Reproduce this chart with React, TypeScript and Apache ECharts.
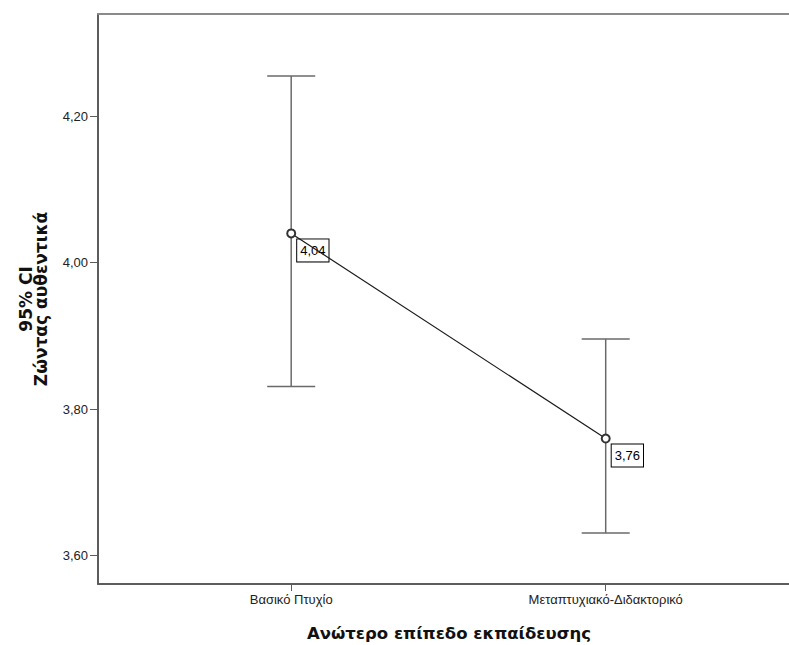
import React, { useEffect, useRef } from "react";
import * as echarts from "echarts";

// Education level groups, mean score and its 95% confidence interval
const categories = ["Βασικό Πτυχίο", "Μεταπτυχιακό-Διδακτορικό"];
const means = [4.04, 3.76];
const ciLower = [3.831, 3.631];
const ciUpper = [4.255, 3.896];
const yTicks = [3.6, 3.8, 4.0, 4.2];

const xTitle = "Ανώτερο επίπεδο εκπαίδευσης";
const yTitle = "95% CI\nΖώντας αυθεντικά";

const fmt = (v: number) => v.toFixed(2).replace(".", ",");

export default function App() {
  const ref = useRef<HTMLDivElement>(null);

  useEffect(() => {
    document.body.style.margin = "0";
    if (!ref.current) return;
    const chart = echarts.init(ref.current, undefined, { renderer: "svg" });

    const xs = categories.map((_, i) => i + 1);
    const frameColor = "#5c5c5c";
    const labelFont = "'Liberation Sans', Arial, sans-serif";
    const titleFont = "'DejaVu Sans', Verdana, sans-serif";
    // plot area runs past the right edge of the visible frame
    const xMin = 0.3857;
    const xMax = 2.6178;

    chart.setOption({
      animation: false,
      backgroundColor: "#ffffff",
      grid: { left: 98, top: 14, right: 20, bottom: 61, outerBoundsMode: "none" },
      xAxis: [
        {
          type: "value",
          min: xMin,
          max: xMax,
          position: "bottom",
          name: xTitle,
          nameLocation: "middle",
          nameGap: 41,
          nameTextStyle: {
            fontFamily: titleFont,
            fontWeight: "bold",
            fontSize: 16.5,
            color: "#111",
          },
          axisLine: { show: true, lineStyle: { color: frameColor, width: 2 } },
          axisTick: { show: true, customValues: xs, length: 7 },
          axisLabel: {
            customValues: xs,
            margin: 9,
            fontFamily: labelFont,
            fontSize: 13,
            color: "#222",
            formatter: (v: number) => categories[Math.round(v) - 1] ?? "",
          },
          splitLine: { show: false },
        },
        {
          type: "value",
          min: xMin,
          max: xMax,
          position: "top",
          axisLine: { show: true, onZero: false, lineStyle: { color: "#8a8a8a", width: 2 } },
          axisTick: { show: false },
          axisLabel: { show: false },
          splitLine: { show: false },
        },
      ],
      yAxis: {
        type: "value",
        min: 3.5614,
        max: 4.3396,
        name: yTitle,
        nameLocation: "middle",
        nameRotate: 90,
        nameGap: 50,
        nameTextStyle: {
          fontFamily: titleFont,
          fontWeight: "bold",
          fontSize: 17,
          lineHeight: 15,
          color: "#111",
        },
        axisLine: { show: true, onZero: false, lineStyle: { color: frameColor, width: 2 } },
        axisTick: { show: true, customValues: yTicks, length: 8 },
        axisLabel: {
          customValues: yTicks,
          margin: 10,
          fontFamily: labelFont,
          fontSize: 13,
          color: "#222",
          formatter: (v: number) => fmt(v),
        },
        splitLine: { show: false },
        splitArea: { show: false },
      },
      series: [
        {
          // error bars with capped ends, plus the boxed mean value (drawn below the mean line)
          type: "custom",
          z: 1,
          data: xs.map((x, i) => [x, ciLower[i], ciUpper[i], means[i]]),
          renderItem: (params: any, api: any) => {
            const x = api.value(0);
            const lo = api.coord([x, api.value(1)]);
            const hi = api.coord([x, api.value(2)]);
            const m = api.coord([x, api.value(3)]);
            const half = 24;
            const style = { stroke: "#6a6a6a", lineWidth: 1.5 };
            return {
              type: "group",
              children: [
                { type: "line", shape: { x1: hi[0], y1: hi[1], x2: lo[0], y2: lo[1] }, style },
                { type: "line", shape: { x1: hi[0] - half, y1: hi[1], x2: hi[0] + half, y2: hi[1] }, style },
                { type: "line", shape: { x1: lo[0] - half, y1: lo[1], x2: lo[0] + half, y2: lo[1] }, style },
                {
                  type: "text",
                  x: m[0] + 6,
                  y: m[1] + 6,
                  style: {
                    text: fmt(api.value(3)),
                    fill: "#000",
                    font: `13px ${labelFont}`,
                    lineHeight: 14,
                    align: "left",
                    verticalAlign: "top",
                    backgroundColor: "#ffffff",
                    borderColor: "#000",
                    borderWidth: 1,
                    padding: [4, 3, 4, 3],
                  },
                },
              ],
            };
          },
        },
        {
          type: "line",
          z: 3,
          data: xs.map((x, i) => [x, means[i]]),
          symbol: "emptyCircle",
          symbolSize: 8,
          lineStyle: { color: "#1a1a1a", width: 1.2 },
          itemStyle: { color: "#333", borderWidth: 1.2 },
        },
      ],
    });

    return () => chart.dispose();
  }, []);

  return (
    <div style={{ width: 789, height: 645, overflow: "hidden", background: "#ffffff" }}>
      <div ref={ref} style={{ width: 820, height: 645 }} />
    </div>
  );
}
